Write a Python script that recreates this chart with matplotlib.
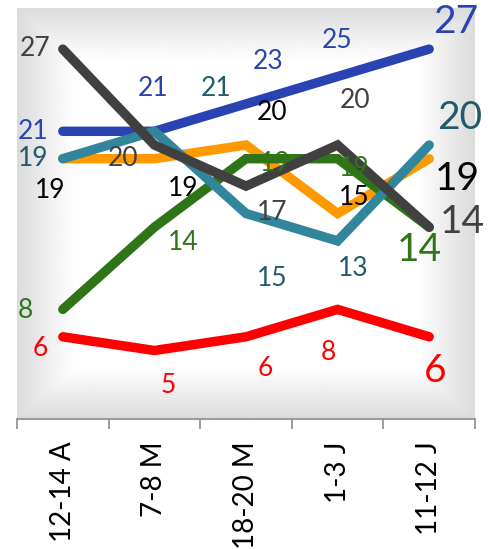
import numpy as np
import matplotlib
matplotlib.use("Agg")
import matplotlib.pyplot as plt

plt.rcParams["font.family"] = ["Lato", "DejaVu Sans"]

# data
categories = ["12-14 A", "7-8 M", "18-20 M", "1-3 J", "11-12 J"]
blue = [21, 21, 23, 25, 27]
gray = [27, 20, 17, 20, 14]
orange = [19, 19, 20, 15, 19]
teal = [19, 21, 15, 13, 20]
green = [8, 14, 19, 19, 14]
red = [6, 5, 6, 8, 6]

# label offsets in pixels (dx, dy up)
blue_off = [(-30, 0), (-1, 43), (22, 42), (-1, 36), (26, 27)]
gray_off = [(-28, 1), (-31, -13), (26, -26), (17, 45), (33, 5)]
orange_off = [(-13, -32), (29, -30), (26, 33), (17, 16), (28, -20)]
teal_off = [(-30, 0), (62, 43), (26, -65), (16, -28), (30, 27)]
green_off = [(-37, -1), (29, -15), (29, -5), (17, -10), (-10, -23)]
red_off = [(-23, -12), (14, -35), (19, -32), (-9, -43), (6, -34)]

series = [
    # values, line colour, label colour, offsets
    (red, "#FF0000", "#FF0000", red_off),
    (blue, "#2944B2", "#2944B2", blue_off),
    (orange, "#FF9900", "#000000", orange_off),
    (green, "#2F7518", "#2F7518", green_off),
    (teal, "#31869B", "#215A69", teal_off),
    (gray, "#404040", "#404040", gray_off),
]


def gradient_background(ax):
    """Rectangular gradient: white centre fading to gray at the edges."""
    nx, ny = 400, 400
    xs = np.abs(np.linspace(-1, 1, nx))
    ys = np.abs(np.linspace(-1, 1, ny))
    t = np.maximum(xs[None, :], ys[:, None])
    t = np.clip((t - 0.75) / 0.25, 0, 1)
    shade = 1.0 - t * (1.0 - 0.86)
    ax.imshow(shade, cmap="gray", vmin=0, vmax=1, extent=[-0.5, 4.5, 0, 30],
              aspect="auto", zorder=0, interpolation="bilinear")


def main():
    fig = plt.figure(figsize=(4.89, 5.49), dpi=100)
    ax = fig.add_axes([17 / 489, (549 - 419) / 549, 458 / 489, 411 / 549])

    gradient_background(ax)

    x = np.arange(len(categories))
    for z, (vals, col, lcol, offs) in enumerate(series):
        ax.plot(x, vals, color=col, linewidth=6.8, solid_capstyle="round",
                solid_joinstyle="miter", zorder=2 + z)
        for i, v in enumerate(vals):
            last = i == len(vals) - 1
            ax.annotate(str(v), (x[i], v), xytext=offs[i], textcoords="offset pixels",
                        ha="center", va="center", color=lcol,
                        fontsize=28 if last else 19, zorder=20)

    ax.set_xlim(-0.5, 4.5)
    ax.set_ylim(0, 30)
    ax.set_yticks([])
    for s in ["left", "right", "top"]:
        ax.spines[s].set_visible(False)
    ax.spines["bottom"].set_color("#8C8C8C")
    ax.spines["bottom"].set_linewidth(1.2)

    ax.set_xticks(x)
    ax.set_xticklabels(categories, rotation=90, fontsize=20)
    ax.tick_params(axis="x", length=0, pad=16)
    ax.set_xticks(np.arange(-0.5, 5, 1), minor=True)
    ax.tick_params(axis="x", which="minor", length=7, width=1.2, color="#8C8C8C")

    fig.savefig("out.png", dpi=100)


if __name__ == "__main__":
    main()
